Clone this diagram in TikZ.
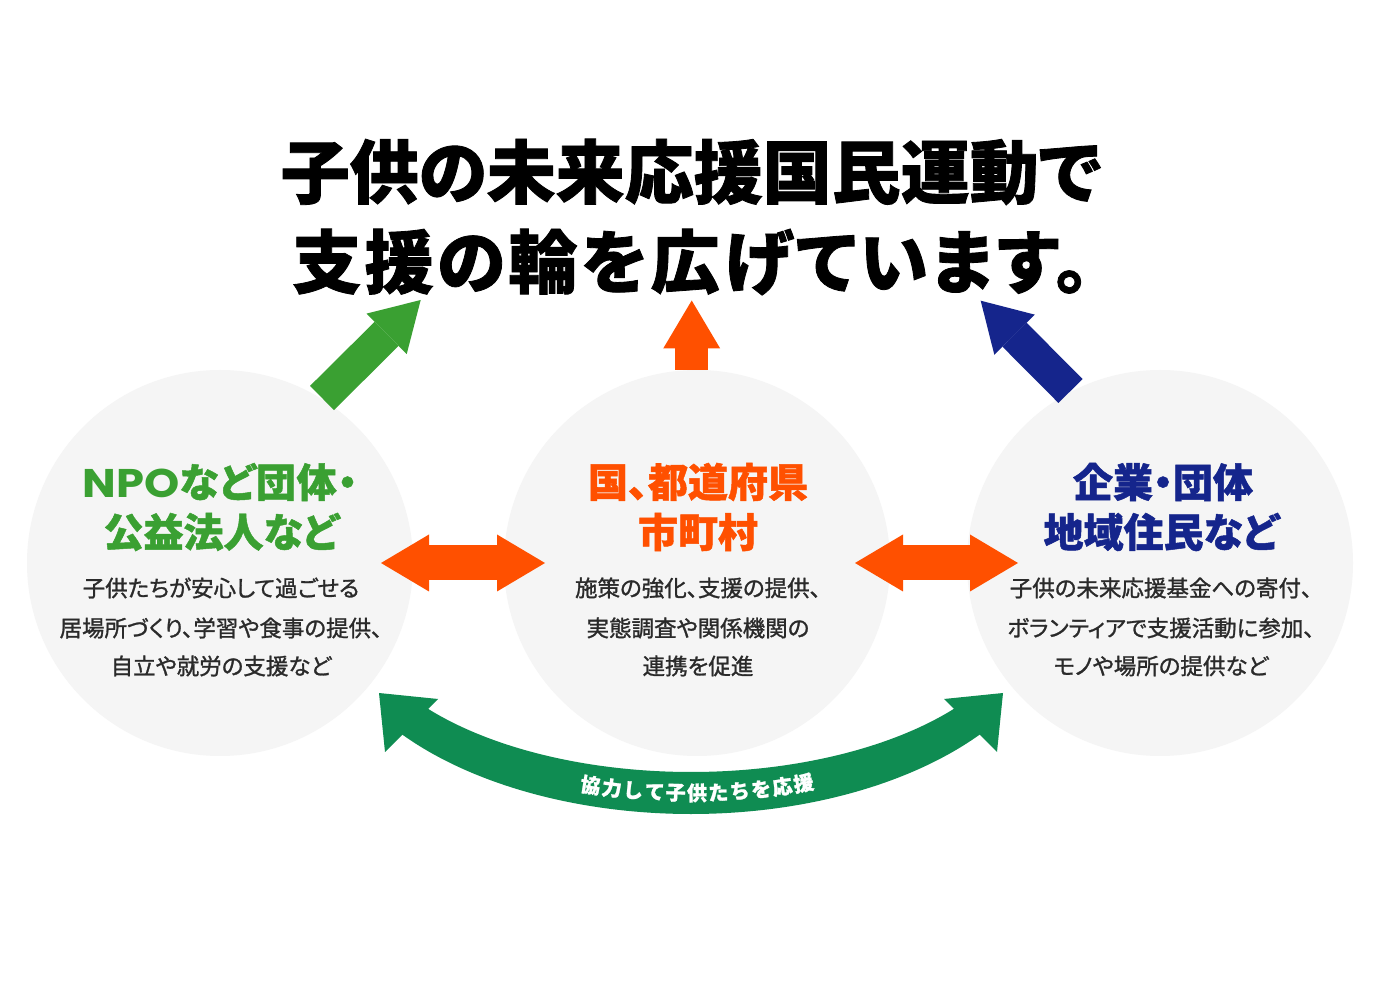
\documentclass[tikz,border=0pt]{standalone}
\usepackage{fontspec}
\usepackage{graphicx}
\newfontfamily\jp{Noto Sans CJK JP}[RawFeature=+palt]
\newfontfamily\jph{Noto Sans CJK JP}[RawFeature=+palt,BoldFeatures={FakeBold=1.2}]
\newfontfamily\jpm{Noto Sans CJK JP}[RawFeature=+palt,FakeBold=1.2]
\newfontfamily\lat{Poppins}
\usetikzlibrary{arrows.meta,calc}
\definecolor{cfill}{HTML}{F5F5F5}
\definecolor{cgreen}{HTML}{3AA032}
\definecolor{corange}{HTML}{FF5000}
\definecolor{cblue}{HTML}{15258C}
\definecolor{cband}{HTML}{0F8C52}
\definecolor{cbody}{HTML}{2A2A2A}
\tikzset{
  circ/.style={circle,fill=cfill,minimum size=386pt,inner sep=0pt},
  titletext/.style={font=\jph\bfseries\fontsize{69}{69}\selectfont,text=black,inner sep=0pt},
  headtext/.style={font=\jph\bfseries\fontsize{40}{40}\selectfont,inner sep=0pt},
  bodytext/.style={font=\jpm\fontsize{22.5}{22.5}\selectfont,text=cbody,inner sep=0pt},
  bandtext/.style={font=\jph\bfseries\fontsize{20}{20}\selectfont,text=white,inner sep=0pt},
  blockarrow/.style={line width=34pt,-{Triangle[length=48pt,width=57pt,line width=0pt]}},
  dblarrow/.style={line width=35pt,{Triangle[length=48pt,width=57pt,line width=0pt]}-{Triangle[length=48pt,width=57pt,line width=0pt]}}
}
\begin{document}
\begin{tikzpicture}[x=1pt,y=1pt]
\path[use as bounding box,fill=white] (0,0) rectangle (1400,991);

% circles
\node[circ] (cl) at (220,428) {};
\node[circ] (cm) at (697,428) {};
\node[circ] (cr) at (1160,428) {};

% title
\node[titletext] (t1) at (691,819) {子供の未来応援国民運動で};
\node[titletext] (t2) at (691,729) {\addfontfeature{LetterSpace=5}支援の輪を広げています。};

% up arrows
\coordinate (gtail) at (322,593);
\coordinate (gtip) at (420.7,691);
\draw[blockarrow,cgreen] (gtail) -- (gtip);
\coordinate (otail) at (691.7,621);
\coordinate (otip) at (691.7,690.5);
\draw[blockarrow,corange,line width=33pt] (otail) -- (otip);
\coordinate (btail) at (1070.5,600);
\coordinate (btip) at (980.7,690.3);
\draw[blockarrow,cblue] (btail) -- (btip);

% horizontal double arrows
\coordinate (la) at (381,428);
\coordinate (lb) at (545,428);
\draw[dblarrow,corange] (la) -- (lb);
\coordinate (ra) at (855,428);
\coordinate (rb) at (1018,428);
\draw[dblarrow,corange] (ra) -- (rb);

% headings
\node[headtext,text=cgreen] (hl1) at (220,509) {\scalebox{1.12}[1]{\lat\bfseries NPO}{\addfontfeature{LetterSpace=2}など団体・}};
\node[headtext,text=cgreen] (hl2) at (221,459) {公益法人など};
\node[headtext,text=corange] (hm1) at (698,509) {国、都道府県};
\node[headtext,text=corange] (hm2) at (698,459) {市町村};
\node[headtext,text=cblue] (hr1) at (1163,509) {企業・団体};
\node[headtext,text=cblue] (hr2) at (1161,459) {地域住民など};

% body texts
\node[bodytext] (bl1) at (221,403) {子供たちが安心して過ごせる};
\node[bodytext] (bl2) at (221,363) {居場所づくり、学習や食事の提供、};
\node[bodytext] (bl3) at (221,325) {自立や就労の支援など};
\node[bodytext] (bm1) at (698,403) {施策の強化、支援の提供、};
\node[bodytext] (bm2) at (698,363) {実態調査や関係機関の};
\node[bodytext] (bm3) at (698,325) {連携を促進};
\node[bodytext] (br1) at (1161,403) {子供の未来応援基金への寄付、};
\node[bodytext] (br2) at (1161,363) {ボランティアで支援活動に参加、};
\node[bodytext] (br3) at (1161,325) {モノや場所の提供など};

% bottom curved double arrow
\coordinate (ac) at (691,389);
\fill[cband] (ac) ++(218:370 and 212) arc[start angle=218,end angle=322,x radius=370,y radius=212]
  -- ($(ac)+(322:338 and 170)$) arc[start angle=322,end angle=218,x radius=338,y radius=170] -- cycle;
\coordinate (lt) at (379,298);
\coordinate (lc1) at (438,292);
\coordinate (lc2) at (385,239);
\fill[cband] (lt) -- (lc1) -- (lc2) -- cycle;
\coordinate (rt) at (1003,298);
\coordinate (rc1) at (944,292);
\coordinate (rc2) at (997,239);
\fill[cband] (rt) -- (rc1) -- (rc2) -- cycle;

\foreach \ch [count=\i from 0] in {協,力,し,て,子,供,た,ち,を,応,援} {
  \pgfmathsetmacro\dx{(\i-5)*21.3+6}
  \pgfmathsetmacro\u{asin(\dx/354)}
  \pgfmathsetmacro\rot{atan2(191*sin(\u),354*cos(\u))}
  \pgfmathsetmacro\px{691+354*sin(\u)}
  \pgfmathsetmacro\py{389-191*cos(\u)}
  \node[bandtext,rotate=\rot] (bt\i) at (\px,\py) {\ch};
}
\end{tikzpicture}
\end{document}
